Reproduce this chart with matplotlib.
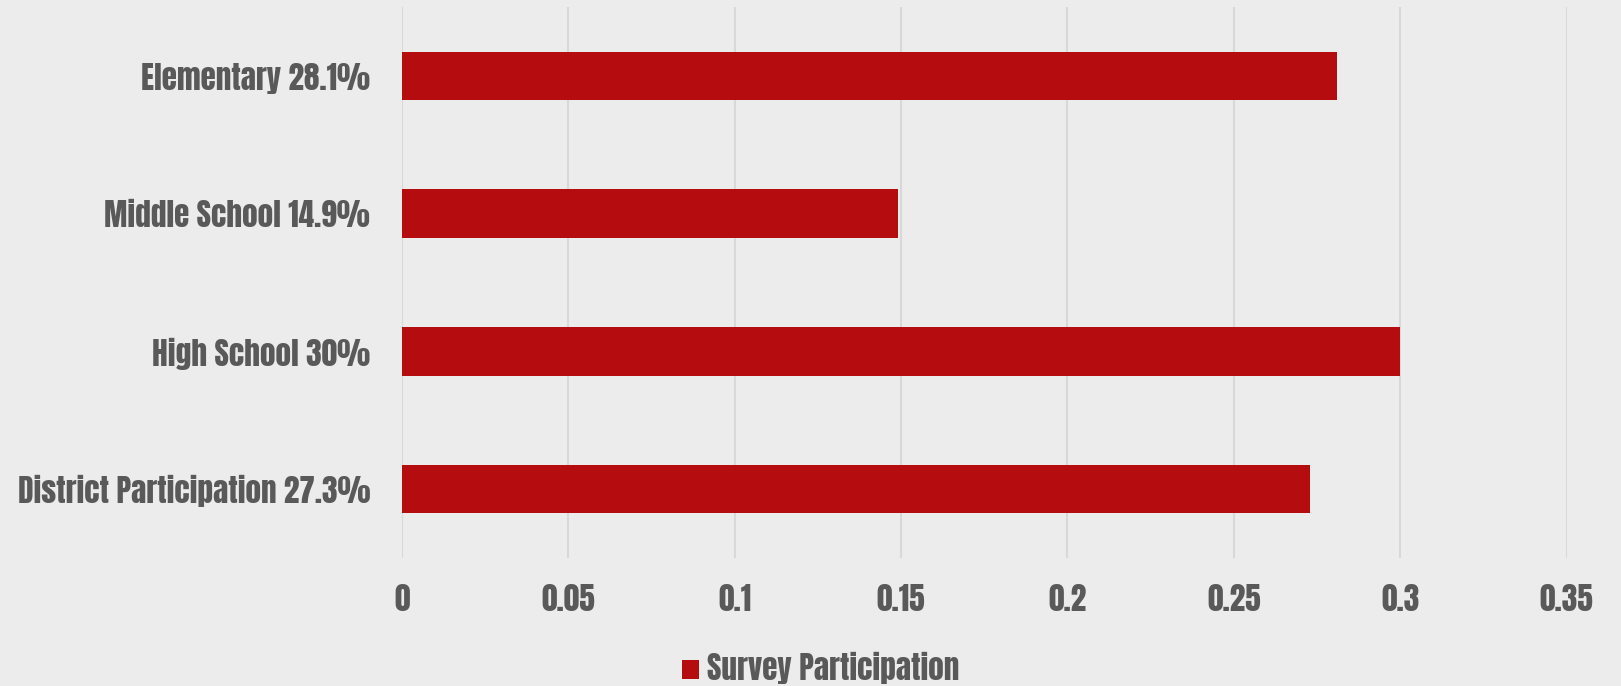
import os
import matplotlib
matplotlib.use("Agg")
import matplotlib.pyplot as plt
from matplotlib import font_manager as fm
from matplotlib.patches import Patch

# Data
categories = ['District Participation 27.3%', 'High School 30%',
              'Middle School 14.9%', 'Elementary 28.1%']
participation = [0.273, 0.30, 0.149, 0.281]
ticks = [0, 0.05, 0.1, 0.15, 0.2, 0.25, 0.3, 0.35]
tick_labels = ['0', '0.05', '0.1', '0.15', '0.2', '0.25', '0.3', '0.35']

bar_color = '#b50d0f'
text_color = '#595959'
bg = '#ececec'

# narrow heavy face, close to the Impact look of the original
font_file = None
for want in ('Anton-Regular.ttf', 'BarlowCondensed-Black.ttf'):
    hits = [f.fname for f in fm.fontManager.ttflist if os.path.basename(f.fname) == want]
    if hits:
        font_file = hits[0]
        break
if font_file:
    font = fm.FontProperties(fname=font_file, size=22.5)
else:
    font = fm.FontProperties(family='DejaVu Sans', weight='bold', size=17)

fig = plt.figure(figsize=(16.21, 6.86), dpi=100, facecolor=bg)
ax = fig.add_axes([0.248, 0.1866, 0.7184, 0.8029])
ax.set_facecolor(bg)

ax.barh(categories, participation, height=0.353, color=bar_color, zorder=3)

ax.set_xlim(0, 0.35)
ax.set_ylim(-0.5, 3.5)
ax.set_xticks(ticks)
ax.set_xticklabels(tick_labels, fontproperties=font)
ax.set_yticks(range(len(categories)))
ax.set_yticklabels(categories, fontproperties=font)
ax.grid(axis='x', color='#d8d8d8', linewidth=1.5, zorder=0)
for s in ax.spines.values():
    s.set_visible(False)
ax.tick_params(length=0, colors=text_color)
ax.tick_params(axis='x', pad=19)
ax.tick_params(axis='y', pad=23)

handle = Patch(facecolor=bar_color)
fig.legend([handle], ['Survey Participation'], loc='center', bbox_to_anchor=(0.506, 0.026),
           frameon=False, prop=font, labelcolor=text_color, borderpad=0,
           handlelength=0.55, handleheight=0.55, handletextpad=0.25)

fig.savefig('out.png', dpi=100, facecolor=bg)
